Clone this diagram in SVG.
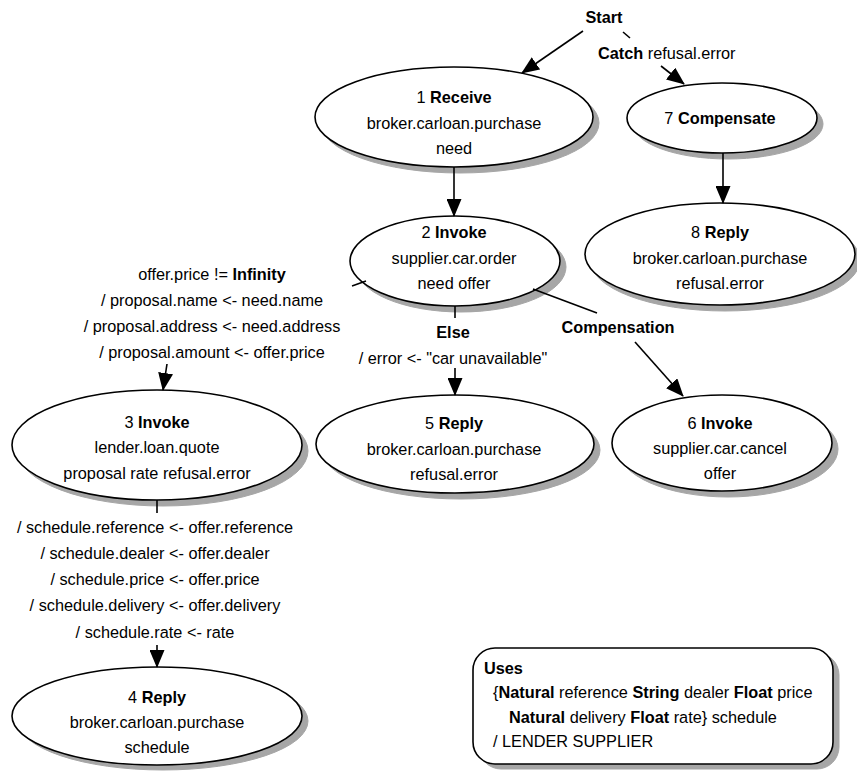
<svg xmlns="http://www.w3.org/2000/svg" width="857" height="771" viewBox="0 0 857 771">
<style>
text{font-family:"Liberation Sans",Arial,Helvetica,sans-serif;font-size:16.3px;fill:#000;text-anchor:middle}
.l{text-anchor:start}
.b{font-weight:bold}
.nd{fill:#ffffff;stroke:#000000;stroke-width:1.6}
.sd{fill:#a6a6a6;stroke:#a6a6a6;stroke-width:1}
.cn line{stroke:#000;stroke-width:1.6;fill:none}
</style>
<defs>
<marker id="ah" markerUnits="userSpaceOnUse" markerWidth="18" markerHeight="15" refX="17" refY="7.5" orient="auto">
<path d="M0,0 L18,7.5 L0,15 z" fill="#000"/>
</marker>
</defs>
<rect x="0" y="0" width="857" height="771" fill="#ffffff"/>

<g id="node1">
<ellipse class="sd" cx="460" cy="123" rx="139" ry="50"/>
<ellipse class="nd" cx="454" cy="117" rx="139" ry="50"/>
<text x="454" y="103">1 <tspan class="b">Receive</tspan></text>
<text x="454" y="129">broker.carloan.purchase</text>
<text x="454" y="154">need</text>
</g>
<g id="node2">
<ellipse class="sd" cx="461" cy="267" rx="105" ry="45"/>
<ellipse class="nd" cx="455" cy="261" rx="105" ry="45"/>
<text x="454" y="238">2 <tspan class="b">Invoke</tspan></text>
<text x="454" y="264">supplier.car.order</text>
<text x="454" y="289">need offer</text>
</g>
<g id="node7">
<ellipse class="sd" cx="728" cy="124" rx="95" ry="35"/>
<ellipse class="nd" cx="722" cy="118" rx="95" ry="35"/>
<text x="720" y="124">7 <tspan class="b">Compensate</tspan></text>
</g>
<g id="node8">
<ellipse class="sd" cx="725" cy="260" rx="135" ry="51"/>
<ellipse class="nd" cx="720" cy="254" rx="135" ry="51"/>
<text x="720" y="238">8 <tspan class="b">Reply</tspan></text>
<text x="720" y="264">broker.carloan.purchase</text>
<text x="720" y="289">refusal.error</text>
</g>
<g id="node3">
<ellipse class="sd" cx="163" cy="451" rx="145" ry="55"/>
<ellipse class="nd" cx="157" cy="445" rx="145" ry="55"/>
<text x="157" y="428">3 <tspan class="b">Invoke</tspan></text>
<text x="157" y="453">lender.loan.quote</text>
<text x="157" y="479">proposal rate refusal.error</text>
</g>
<g id="node5">
<ellipse class="sd" cx="461" cy="450" rx="139" ry="49"/>
<ellipse class="nd" cx="455" cy="444" rx="139" ry="49"/>
<text x="454" y="429">5 <tspan class="b">Reply</tspan></text>
<text x="454" y="455">broker.carloan.purchase</text>
<text x="454" y="480">refusal.error</text>
</g>
<g id="node6">
<ellipse class="sd" cx="728" cy="449" rx="110" ry="48"/>
<ellipse class="nd" cx="722" cy="443" rx="110" ry="48"/>
<text x="720" y="429">6 <tspan class="b">Invoke</tspan></text>
<text x="720" y="454">supplier.car.cancel</text>
<text x="720" y="479">offer</text>
</g>
<g id="node4">
<ellipse class="sd" cx="163" cy="721" rx="145" ry="49"/>
<ellipse class="nd" cx="157" cy="716" rx="145" ry="49"/>
<text x="157" y="703">4 <tspan class="b">Reply</tspan></text>
<text x="157" y="728">broker.carloan.purchase</text>
<text x="157" y="753">schedule</text>
</g>
<g id="uses">
<rect class="sd" x="479" y="653" width="360" height="116" rx="22"/>
<rect class="nd" x="473" y="648" width="360" height="116" rx="22"/>
<text class="l b" x="484" y="674">Uses</text>
<text class="l" x="493" y="698">{<tspan class="b">Natural</tspan> reference <tspan class="b">String</tspan> dealer <tspan class="b">Float</tspan> price</text>
<text class="l" x="509" y="723"><tspan class="b">Natural</tspan> delivery <tspan class="b">Float</tspan> rate} schedule</text>
<text class="l" x="493" y="747">/ LENDER SUPPLIER</text>
</g>

<g id="connectors" class="cn">
<line x1="583" y1="31" x2="522" y2="73" marker-end="url(#ah)"/>
<line x1="623" y1="32" x2="630" y2="38"/>
<line x1="661" y1="66" x2="684" y2="84" marker-end="url(#ah)"/>
<line x1="454" y1="167" x2="454" y2="216" marker-end="url(#ah)"/>
<line x1="723" y1="153" x2="723" y2="203" marker-end="url(#ah)"/>
<line x1="366" y1="281" x2="352" y2="286"/>
<line x1="167" y1="364" x2="163" y2="390" marker-end="url(#ah)"/>
<line x1="455" y1="306" x2="455" y2="318"/>
<line x1="455" y1="368" x2="455" y2="395" marker-end="url(#ah)"/>
<line x1="533" y1="289" x2="597" y2="313"/>
<line x1="635" y1="342" x2="683" y2="396" marker-end="url(#ah)"/>
<line x1="157" y1="500" x2="157" y2="513"/>
<line x1="157" y1="645" x2="157" y2="667" marker-end="url(#ah)"/>
<text class="b" x="604" y="23">Start</text>
<text class="l" x="598" y="59"><tspan class="b">Catch</tspan> refusal.error</text>
<text x="212" y="280">offer.price != <tspan class="b">Infinity</tspan></text>
<text x="212" y="306">/ proposal.name &lt;- need.name</text>
<text x="212" y="332">/ proposal.address &lt;- need.address</text>
<text x="212" y="358">/ proposal.amount &lt;- offer.price</text>
<text class="b" x="453" y="338">Else</text>
<text x="453" y="364">/ error &lt;- "car unavailable"</text>
<text class="b" x="618" y="333">Compensation</text>
<text x="155" y="533">/ schedule.reference &lt;- offer.reference</text>
<text x="155" y="559">/ schedule.dealer &lt;- offer.dealer</text>
<text x="155" y="585">/ schedule.price &lt;- offer.price</text>
<text x="155" y="611">/ schedule.delivery &lt;- offer.delivery</text>
<text x="155" y="638">/ schedule.rate &lt;- rate</text>
</g>
</svg>
